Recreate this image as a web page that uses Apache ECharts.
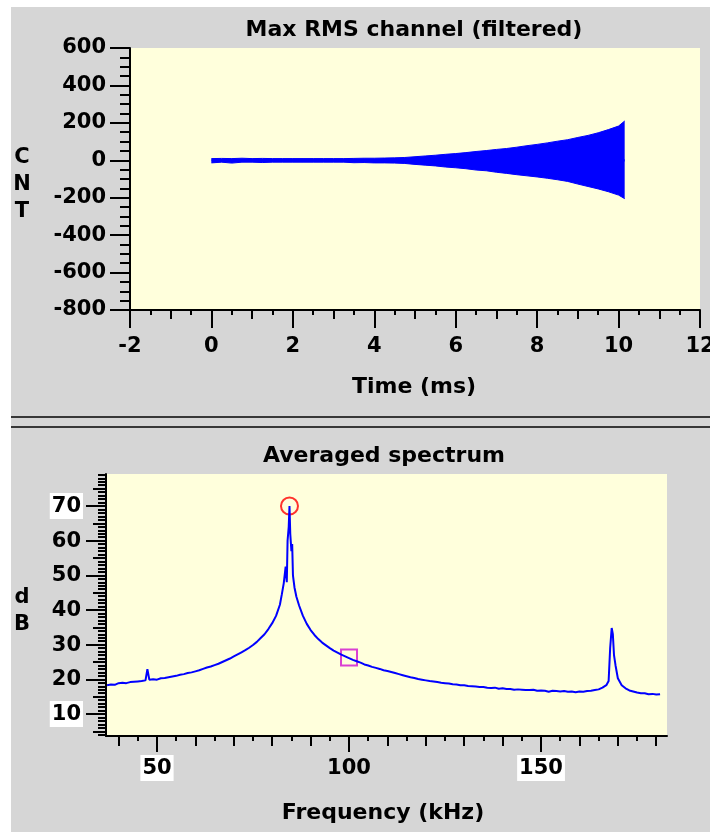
<!DOCTYPE html>
<html>
<head>
<meta charset="utf-8">
<script src="https://cdn.jsdelivr.net/npm/echarts@6/dist/echarts.min.js"></script>
<style>
  html, body { margin: 0; padding: 0; background: #ffffff; }
  #panel { position: absolute; left: 11px; top: 7px; width: 699px; height: 825px; background: #d6d6d6; }
  #chart { position: absolute; left: 0; top: 0; width: 710px; height: 832px; }
</style>
</head>
<body>
<div id="panel"></div>
<div id="chart"></div>
<script>
// ---- Time trace: envelope of the filtered channel (ms, counts) ----
const timeMs = [0, 0.25, 0.5, 0.75, 1, 1.25, 1.5, 1.75, 2, 2.25,
  2.5, 2.75, 3, 3.25, 3.5, 3.75, 4, 4.25, 4.5, 4.75,
  5, 5.25, 5.5, 5.75, 6, 6.25, 6.5, 6.75, 7, 7.25,
  7.5, 7.75, 8, 8.25, 8.5, 8.75, 9, 9.25, 9.5, 9.75,
  10, 10.15];
const traceUpper = [9, 10, 9, 11, 9, 10, 9, 9, 9, 9,
  9, 9, 9, 9, 10, 11, 11, 12, 13, 15,
  19, 23, 27, 32, 36, 41, 47, 52, 58, 63,
  70, 78, 85, 93, 102, 110, 122, 133, 147, 164,
  183, 210];
const traceLower = [-14, -10, -15, -10, -10, -12, -10, -10, -10, -10,
  -10, -10, -10, -10, -13, -12, -14, -14, -15, -17,
  -22, -26, -30, -36, -40, -45, -52, -56, -64, -70,
  -77, -83, -89, -96, -104, -113, -127, -140, -153, -168,
  -186, -205];

// ---- Averaged spectrum (kHz, dB) ----
const freqKHz = [37, 38, 39, 40, 41, 42, 43, 44, 45, 46,
  47, 47.5, 48, 49, 50, 51, 52, 53, 54, 55,
  56, 57, 58, 59, 60, 61, 62, 63, 64, 65,
  66, 67, 68, 69, 70, 71, 72, 73, 74, 75,
  76, 77, 78, 79, 80, 81, 82, 82.5, 83, 83.5,
  83.8, 84, 84.3, 84.5, 84.7, 85, 85.2, 85.4, 85.8, 86.3,
  87, 88, 89, 90, 91, 92, 93, 94, 95, 96,
  97, 98, 99, 100, 101, 102, 103, 104, 105, 106,
  107, 108, 109, 110, 111, 112, 113, 114, 115, 116,
  117, 118, 119, 120, 121, 122, 123, 124, 125, 126,
  127, 128, 129, 130, 131, 132, 133, 134, 135, 136,
  137, 138, 139, 140, 141, 142, 143, 144, 145, 146,
  147, 148, 149, 150, 151, 152, 153, 154, 155, 156,
  157, 158, 159, 160, 161, 162, 163, 164, 165, 166,
  167, 167.6, 168, 168.4, 168.7, 169, 169.4, 170, 171, 172,
  173, 174, 175, 176, 177, 178, 179, 180, 181];
const spectrumDb = [18.3, 18.5, 18.4, 18.9, 19.0, 18.9, 19.2, 19.3, 19.4, 19.5,
  19.7, 22.9, 19.9, 20.0, 19.9, 20.3, 20.4, 20.6, 20.8, 21.0,
  21.3, 21.5, 21.8, 22.0, 22.3, 22.6, 23.0, 23.4, 23.7, 24.1,
  24.5, 25.0, 25.5, 26.0, 26.6, 27.2, 27.8, 28.4, 29.1, 29.9,
  30.8, 31.9, 33.0, 34.5, 36.2, 38.3, 41.5, 44.5, 47.7, 52.5,
  48.0, 60.0, 64.0, 70.0, 62.0, 57.0, 59.0, 50.0, 46.5, 43.8,
  41.3, 38.3, 36.0, 34.2, 32.8, 31.6, 30.6, 29.8, 29.0, 28.3,
  27.7, 27.1, 26.6, 26.1, 25.6, 25.2, 24.8, 24.3, 24.0, 23.6,
  23.3, 23.0, 22.6, 22.4, 22.1, 21.8, 21.5, 21.2, 20.9, 20.6,
  20.4, 20.1, 19.9, 19.7, 19.5, 19.4, 19.2, 19.0, 18.9, 18.8,
  18.6, 18.5, 18.3, 18.3, 18.1, 18.0, 17.9, 17.8, 17.8, 17.6,
  17.5, 17.6, 17.3, 17.4, 17.2, 17.2, 17.0, 17.1, 17.0, 16.9,
  16.9, 17.0, 16.7, 16.8, 16.7, 16.4, 16.7, 16.6, 16.5, 16.6,
  16.4, 16.5, 16.3, 16.5, 16.4, 16.6, 16.7, 16.9, 17.1, 17.6,
  18.3, 19.5, 29.0, 34.8, 33.0, 27.0, 24.0, 20.3, 18.3, 17.4,
  16.8, 16.5, 16.2, 16.0, 16.0, 15.7, 15.8, 15.6, 15.7];

// Markers on the spectrum: peak pick and cursor
const peakMarker = [84.5, 70];
const cursorMarker = [100, 26.3];

// Tick label values
const freqLabels = [50, 100, 150];
const freqTens = [40, 60, 70, 80, 90, 110, 120, 130, 140, 160, 170, 180];
const freqFives = [45, 55, 65, 75, 85, 95, 105, 115, 125, 135, 145, 155, 165, 175];
const dbLabels = [10, 20, 30, 40, 50, 60, 70];
const dbFives = [5, 15, 25, 35, 45, 55, 65, 75];
const boxedDb = [10, 70];
const boxedFreq = [50, 150];

// Axis ranges of the spectrum panel
const FREQ_MIN = 36.72, FREQ_MAX = 182.8;
const DB_MIN = 3.65, DB_MAX = 79.23;

const dbOnes = [];
for (let v = Math.ceil(DB_MIN); v <= DB_MAX; v++) dbOnes.push(v);

const FONT = 'DejaVu Sans';
const BLACK = '#000000';
const BLUE = '#0000ff';
const PLOT_BG = '#ffffdc';

const labelFont = { fontFamily: FONT, fontSize: 21, fontWeight: 'bold', color: BLACK };
const richLabels = {
  box: Object.assign({ backgroundColor: '#ffffff', padding: [3, 2, 2, 2] }, labelFont),
  plain: Object.assign({ padding: [3, 2, 2, 2] }, labelFont)
};
const boxed = (list) => (v) => (list.indexOf(v) >= 0 ? '{box|' + v + '}' : '{plain|' + v + '}');

const lineBlack = { show: true, onZero: false, lineStyle: { color: BLACK, width: 2 } };
function tickAxis(extra) {
  // Invisible companion axis used only to draw an extra level of tick marks
  return Object.assign({
    type: 'value',
    axisLine: { show: false, onZero: false },
    axisLabel: { show: false },
    splitLine: { show: false }
  }, extra);
}

const chart = echarts.init(document.getElementById('chart'), null, { renderer: 'canvas' });

const textStyle = (txt, x, y, size) => ({
  type: 'text',
  x: x, y: y,
  style: {
    text: txt,
    fontFamily: FONT, fontSize: size, fontWeight: 'bold',
    fill: BLACK, align: 'center', verticalAlign: 'middle', lineHeight: 27
  }
});

chart.setOption({
  animation: false,
  backgroundColor: 'transparent',
  grid: [
    { left: 130, top: 48, width: 570, height: 262, show: true, backgroundColor: PLOT_BG, borderWidth: 0,
      containLabel: false, outerBoundsMode: 'none' },
    { left: 106, top: 474, width: 561, height: 262, show: true, backgroundColor: PLOT_BG, borderWidth: 0,
      containLabel: false, outerBoundsMode: 'none' }
  ],
  xAxis: [
    {
      type: 'value', gridIndex: 0, position: 'bottom', min: -2, max: 12, interval: 2,
      axisLine: lineBlack,
      axisTick: { length: 18, lineStyle: { color: BLACK, width: 2 } },
      minorTick: { show: true, splitNumber: 4, length: 5, lineStyle: { color: BLACK, width: 2 } },
      axisLabel: Object.assign({ margin: 26 }, labelFont),
      splitLine: { show: false }
    },
    tickAxis({
      gridIndex: 0, position: 'bottom', min: -2, max: 12, interval: 1,
      axisTick: { length: 9, lineStyle: { color: BLACK, width: 2 } }
    }),
    {
      type: 'value', gridIndex: 1, position: 'bottom', min: FREQ_MIN, max: FREQ_MAX,
      axisLine: lineBlack,
      axisTick: { customValues: freqLabels, length: 16, lineStyle: { color: BLACK, width: 2 } },
      axisLabel: { customValues: freqLabels, margin: 19, formatter: boxed(boxedFreq), rich: richLabels },
      splitLine: { show: false }
    },
    tickAxis({
      gridIndex: 1, position: 'bottom', min: FREQ_MIN, max: FREQ_MAX,
      axisTick: { customValues: freqTens, length: 10, lineStyle: { color: BLACK, width: 2 } }
    }),
    tickAxis({
      gridIndex: 1, position: 'bottom', min: FREQ_MIN, max: FREQ_MAX,
      axisTick: { customValues: freqFives, length: 5, lineStyle: { color: BLACK, width: 2 } }
    })
  ],
  yAxis: [
    {
      type: 'value', gridIndex: 0, position: 'left', min: -800, max: 600, interval: 200,
      axisLine: lineBlack,
      axisTick: { length: 20, lineStyle: { color: BLACK, width: 2 } },
      minorTick: { show: true, splitNumber: 4, length: 10, lineStyle: { color: BLACK, width: 2 } },
      axisLabel: Object.assign({ margin: 24 }, labelFont),
      splitLine: { show: false }
    },
    {
      type: 'value', gridIndex: 1, position: 'left', min: DB_MIN, max: DB_MAX,
      axisLine: lineBlack,
      axisTick: { customValues: dbLabels, length: 20, lineStyle: { color: BLACK, width: 2 } },
      axisLabel: { customValues: dbLabels, margin: 23, formatter: boxed(boxedDb), rich: richLabels },
      splitLine: { show: false }
    },
    tickAxis({
      gridIndex: 1, position: 'left', min: DB_MIN, max: DB_MAX,
      axisTick: { customValues: dbFives, length: 13, lineStyle: { color: BLACK, width: 2 } }
    }),
    tickAxis({
      gridIndex: 1, position: 'left', min: DB_MIN, max: DB_MAX,
      axisTick: { customValues: dbOnes, length: 8, lineStyle: { color: BLACK, width: 2 } }
    })
  ],
  graphic: [
    { type: 'line', shape: { x1: 11, y1: 417, x2: 710, y2: 417 }, style: { stroke: '#383838', lineWidth: 2 } },
    { type: 'line', shape: { x1: 11, y1: 427, x2: 710, y2: 427 }, style: { stroke: '#383838', lineWidth: 2 } },
    textStyle('Max RMS channel (filtered)', 414, 30, 22),
    textStyle('Time (ms)', 414, 387, 22),
    textStyle('C\nN\nT', 22, 185, 21),
    textStyle('Averaged spectrum', 384, 456, 22),
    textStyle('Frequency (kHz)', 383, 813, 22),
    textStyle('d\nB', 22, 611, 21)
  ],
  series: [
    {
      // upper edge of the oscillation envelope, filled down past zero
      name: 'upper', type: 'line', xAxisIndex: 0, yAxisIndex: 0,
      data: timeMs.map((t, i) => [t, traceUpper[i]]),
      showSymbol: false, silent: true,
      lineStyle: { color: BLUE, width: 1 },
      areaStyle: { color: BLUE, opacity: 1, origin: -6 }
    },
    {
      // lower edge, filled up past zero so both fills overlap
      name: 'lower', type: 'line', xAxisIndex: 0, yAxisIndex: 0,
      data: timeMs.map((t, i) => [t, traceLower[i]]),
      showSymbol: false, silent: true,
      lineStyle: { color: BLUE, width: 1 },
      areaStyle: { color: BLUE, opacity: 1, origin: 6 }
    },
    {
      name: 'spectrum', type: 'line', xAxisIndex: 2, yAxisIndex: 1,
      data: freqKHz.map((f, i) => [f, spectrumDb[i]]),
      showSymbol: false, silent: true,
      lineStyle: { color: BLUE, width: 2 }
    },
    {
      name: 'peak', type: 'scatter', xAxisIndex: 2, yAxisIndex: 1,
      data: [peakMarker], symbol: 'circle', symbolSize: 17, silent: true,
      itemStyle: { color: 'rgba(0,0,0,0)', borderColor: '#ff0000', borderWidth: 2 }
    },
    {
      name: 'cursor', type: 'scatter', xAxisIndex: 2, yAxisIndex: 1,
      data: [cursorMarker], symbol: 'rect', symbolSize: 16, silent: true,
      itemStyle: { color: 'rgba(0,0,0,0)', borderColor: '#d010d0', borderWidth: 2 }
    }
  ]
});
</script>
</body>
</html>
